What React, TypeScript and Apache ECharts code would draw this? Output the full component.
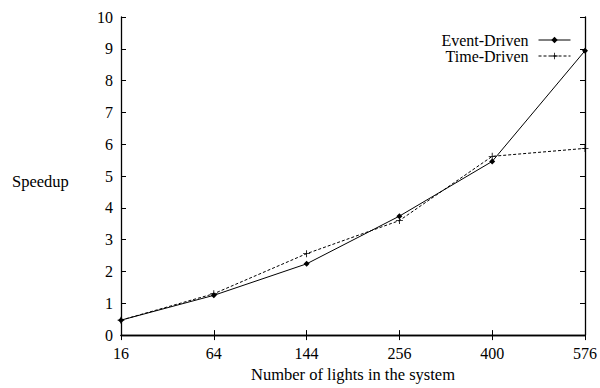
import React, { useEffect, useRef } from "react";
import * as echarts from "echarts";

const categories = ["16", "64", "144", "256", "400", "576"];
const eventDriven = [0.47, 1.25, 2.24, 3.74, 5.46, 8.94];
const timeDriven = [0.47, 1.3, 2.56, 3.6, 5.62, 5.87];
const yTicks = [0, 10, 1];

const FONT = "Liberation Serif";
const plusPath = "path://M4.4,0H5.6V4.4H10V5.6H5.6V10H4.4V5.6H0V4.4H4.4Z";

export default function App() {
  const ref = useRef<HTMLDivElement>(null);
  useEffect(() => {
    const chart = echarts.init(ref.current!, null, { renderer: "svg" });
    const axisCommon = {
      axisLine: { show: true, lineStyle: { color: "#000", width: 1.3 } },
      axisTick: { show: true, inside: true, length: 5, lineStyle: { color: "#000" } },
      splitLine: { show: false },
    };
    chart.setOption({
      animation: false,
      backgroundColor: "#fff",
      textStyle: { fontFamily: FONT },
      grid: { left: 121, right: 12, top: 17, bottom: 43 },
      legend: {
        right: 24,
        top: 27,
        orient: "vertical",
        align: "right",
        itemWidth: 32,
        itemHeight: 8,
        itemGap: 0,
        lineStyle: { width: 1 },
        textStyle: {
          fontFamily: FONT,
          fontSize: 16,
          color: "#000",
          padding: [0, 5, 0, 0],
        },
        data: ["Event-Driven", "Time-Driven"],
      },
      xAxis: [
        {
          type: "category",
          data: categories,
          boundaryGap: false,
          ...axisCommon,
          axisLabel: { color: "#000", fontFamily: FONT, fontSize: 16, margin: 10 },
          name: "Number of lights in the system",
          nameLocation: "middle",
          nameGap: 28,
          nameTextStyle: { color: "#000", fontFamily: FONT, fontSize: 16.5 },
        },
        {
          type: "category",
          data: categories,
          boundaryGap: false,
          position: "top",
          ...axisCommon,
          axisLabel: { show: false },
        },
      ],
      yAxis: [
        {
          type: "value",
          min: yTicks[0],
          max: yTicks[1],
          interval: yTicks[2],
          ...axisCommon,
          axisLabel: { color: "#000", fontFamily: FONT, fontSize: 16, margin: 8 },
        },
        {
          type: "value",
          min: yTicks[0],
          max: yTicks[1],
          interval: yTicks[2],
          position: "right",
          ...axisCommon,
          axisLabel: { show: false },
        },
      ],
      graphic: [
        {
          type: "text",
          left: 12,
          top: 173,
          style: { text: "Speedup", fontFamily: FONT, fontSize: 16.5, fill: "#000" },
        },
      ],
      series: [
        {
          name: "Event-Driven",
          type: "line",
          data: eventDriven,
          symbol: "diamond",
          symbolSize: 6,
          lineStyle: { color: "#000", width: 1 },
          itemStyle: { color: "#000" },
        },
        {
          name: "Time-Driven",
          type: "line",
          data: timeDriven,
          symbol: plusPath,
          symbolSize: 7,
          lineStyle: { color: "#000", width: 1, type: [3, 2] },
          itemStyle: { color: "#000" },
        },
      ],
    });
    return () => chart.dispose();
  }, []);
  return (
    <div
      ref={ref}
      style={{ position: "absolute", left: 0, top: 0, width: 600, height: 388 }}
    />
  );
}
